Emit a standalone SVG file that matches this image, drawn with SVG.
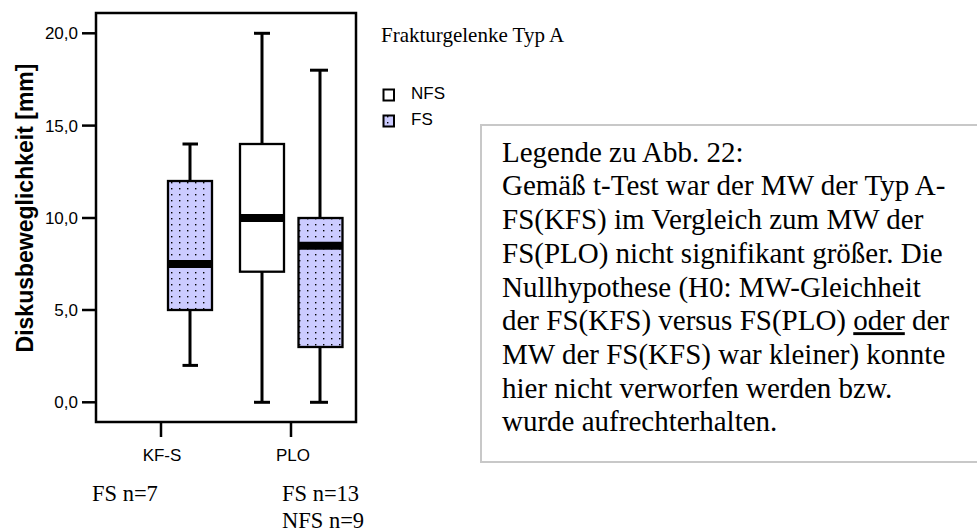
<svg xmlns="http://www.w3.org/2000/svg" width="977" height="532" viewBox="0 0 977 532">
<defs>
<pattern id="dots" patternUnits="userSpaceOnUse" x="0" y="0" width="8" height="6">
<rect width="8" height="6" fill="#ccccff"/>
<rect x="3" y="2" width="1.4" height="1.4" fill="#000"/>
</pattern>
<style>
.ax{font-family:"Liberation Sans",Arial,sans-serif;font-size:17px;fill:#000}
.ser{font-family:"Liberation Serif","Times New Roman",serif;fill:#000}
.frame{fill:none;stroke:#000;stroke-width:2.5}
.tick{stroke:#000;stroke-width:2.5}
.wh{stroke:#000;stroke-width:3;fill:none}
.boxfs{fill:url(#dots);stroke:#000;stroke-width:2.3}
.boxnfs{fill:#fff;stroke:#000;stroke-width:2.3}
.med{stroke:#000;stroke-width:8}
</style>
</defs>
<rect width="977" height="532" fill="#fff"/>

<g id="axes">
<rect class="frame" x="96" y="13" width="260" height="409"/>
<line class="tick" x1="82" y1="33.3" x2="96" y2="33.3"/>
<line class="tick" x1="82" y1="125.6" x2="96" y2="125.6"/>
<line class="tick" x1="82" y1="218" x2="96" y2="218"/>
<line class="tick" x1="82" y1="310" x2="96" y2="310"/>
<line class="tick" x1="82" y1="402.3" x2="96" y2="402.3"/>
<text class="ax" x="78" y="39.3" text-anchor="end">20,0</text>
<text class="ax" x="78" y="131.6" text-anchor="end">15,0</text>
<text class="ax" x="78" y="224" text-anchor="end">10,0</text>
<text class="ax" x="78" y="316" text-anchor="end">5,0</text>
<text class="ax" x="78" y="408.3" text-anchor="end">0,0</text>
<line class="tick" x1="161" y1="422" x2="161" y2="437"/>
<line class="tick" x1="291" y1="422" x2="291" y2="437"/>
<text class="ax" x="162" y="461" text-anchor="middle">KF-S</text>
<text class="ax" x="293" y="461" text-anchor="middle">PLO</text>
<text x="0" y="0" transform="translate(33,208) rotate(-90)" text-anchor="middle" style="font-family:'Liberation Sans',Arial,sans-serif;font-size:23px;font-weight:bold">Diskusbeweglichkeit [mm]</text>
</g>

<g id="box-kfs-fs">
<line class="wh" x1="190" y1="144" x2="190" y2="181"/>
<line class="wh" x1="190" y1="310" x2="190" y2="365.4"/>
<line class="wh" x1="182.5" y1="144" x2="198" y2="144"/>
<line class="wh" x1="182.5" y1="365.4" x2="198" y2="365.4"/>
<rect class="boxfs" x="168" y="181" width="44" height="129"/>
<line class="med" x1="168" y1="264" x2="212" y2="264"/>
</g>

<g id="box-plo-nfs">
<line class="wh" x1="262" y1="33.3" x2="262" y2="144"/>
<line class="wh" x1="262" y1="271.7" x2="262" y2="402.3"/>
<line class="wh" x1="254" y1="33.3" x2="270" y2="33.3"/>
<line class="wh" x1="254" y1="402.3" x2="270" y2="402.3"/>
<rect class="boxnfs" x="240" y="144" width="44" height="127.7"/>
<line class="med" x1="240" y1="218" x2="284" y2="218"/>
</g>

<g id="box-plo-fs">
<line class="wh" x1="320" y1="70.2" x2="320" y2="218"/>
<line class="wh" x1="320" y1="347" x2="320" y2="402.3"/>
<line class="wh" x1="310" y1="70.2" x2="328" y2="70.2"/>
<line class="wh" x1="310" y1="402.3" x2="328" y2="402.3"/>
<rect class="boxfs" x="298.5" y="218" width="44" height="129"/>
<line class="med" x1="298.5" y1="245.7" x2="342.5" y2="245.7"/>
</g>

<g id="counts">
<text class="ser" x="92" y="501" font-size="22.5">FS n=7</text>
<text class="ser" x="282" y="501" font-size="22.5">FS n=13</text>
<text class="ser" x="282" y="528" font-size="22.5">NFS n=9</text>
</g>

<g id="legend">
<text class="ser" x="381" y="42" font-size="21">Frakturgelenke Typ A</text>
<rect x="383.5" y="89.5" width="10.5" height="11" fill="#fff" stroke="#000" stroke-width="2"/>
<text class="ax" x="411" y="99">NFS</text>
<rect x="383.5" y="115.5" width="10.5" height="11" fill="url(#dots)" stroke="#000" stroke-width="2"/>
<text class="ax" x="411" y="125">FS</text>
</g>

<g id="note">
<rect x="481" y="125" width="520" height="337" fill="#fff" stroke="#c8c8c8" stroke-width="2"/>
<text class="ser" font-size="29">
<tspan x="502" y="161.7">Legende zu Abb. 22:</tspan>
<tspan x="502" y="195.4">Gemäß t-Test war der MW der Typ A-</tspan>
<tspan x="502" y="229.1">FS(KFS) im Vergleich zum MW der</tspan>
<tspan x="502" y="262.8">FS(PLO) nicht signifikant größer. Die</tspan>
<tspan x="502" y="296.5">Nullhypothese (H0: MW-Gleichheit</tspan>
<tspan x="502" y="330.2">der FS(KFS) versus FS(PLO) <tspan style="text-decoration:underline">oder</tspan> der</tspan>
<tspan x="502" y="363.9">MW der FS(KFS) war kleiner) konnte</tspan>
<tspan x="502" y="397.6">hier nicht verworfen werden bzw.</tspan>
<tspan x="502" y="431.3">wurde aufrechterhalten.</tspan>
</text>
</g>
</svg>
